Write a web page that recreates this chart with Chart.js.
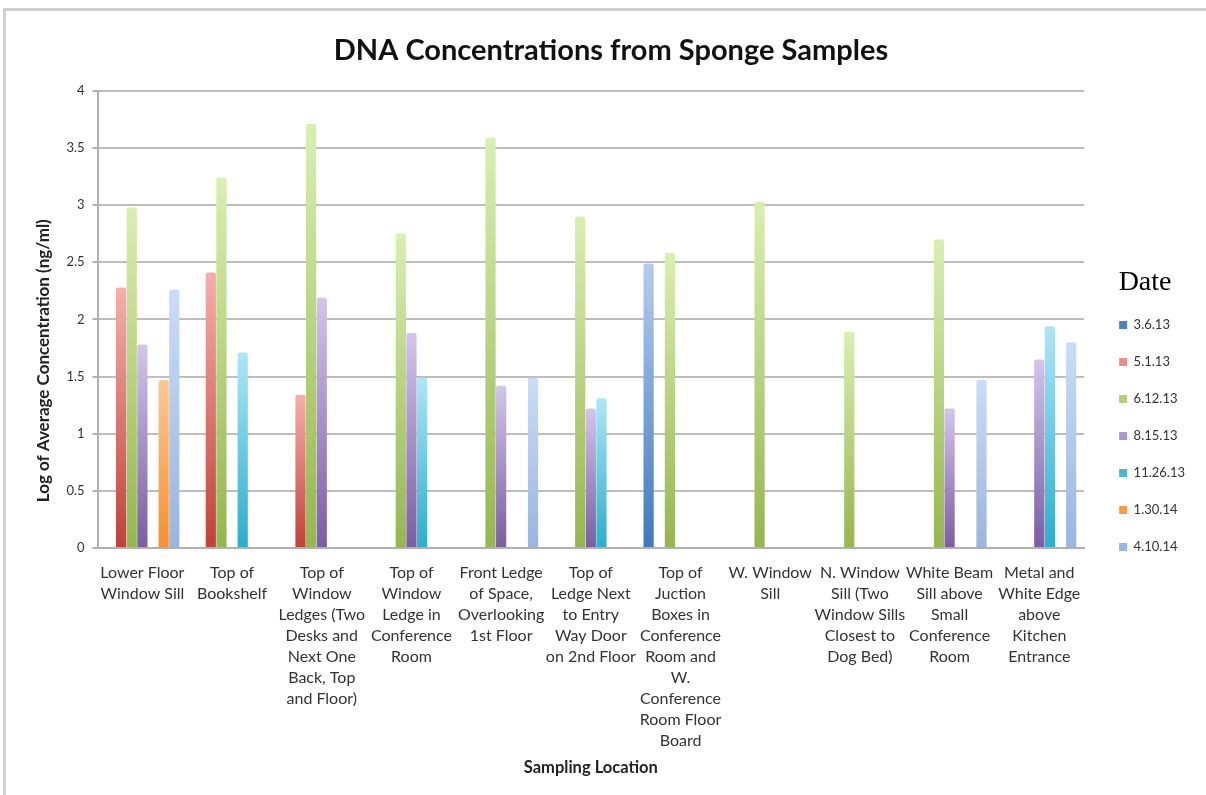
<!DOCTYPE html>
<html>
<head>
<meta charset="utf-8">
<script src="https://cdn.jsdelivr.net/npm/chart.js@4.4.1/dist/chart.umd.min.js"></script>
<style>
  html, body { margin: 0; padding: 0; background: #fff; overflow: hidden; }
  #frame { position: absolute; left: 3px; top: 8px; width: 1220px; height: 800px; border: 3px solid #d0d0d0; }
  #wrap { position: absolute; left: 0; top: 0; width: 1206px; height: 795px; }
</style>
</head>
<body>
<div id="frame"></div>
<div id="wrap"><canvas id="myChart" width="1206" height="795"></canvas></div>
<script>
// sampling locations (multi-line labels as on the x axis)
const LOCATIONS = [
    ["Lower Floor", "Window Sill"],
    ["Top of", "Bookshelf"],
    ["Top of", "Window", "Ledges (Two", "Desks and", "Next One", "Back, Top", "and Floor)"],
    ["Top of", "Window", "Ledge in", "Conference", "Room"],
    ["Front Ledge", "of Space,", "Overlooking", "1st Floor"],
    ["Top of", "Ledge Next", "to Entry", "Way Door", "on 2nd Floor"],
    ["Top of", "Juction", "Boxes in", "Conference", "Room and", "W.", "Conference", "Room Floor", "Board"],
    ["W. Window", "Sill"],
    ["N. Window", "Sill (Two", "Window Sills", "Closest to", "Dog Bed)"],
    ["White Beam", "Sill above", "Small", "Conference", "Room"],
    ["Metal and", "White Edge", "above", "Kitchen", "Entrance"]
];

const DATES = ["3.6.13", "5.1.13", "6.12.13", "8.15.13", "11.26.13", "1.30.14", "4.10.14"];

// log of average concentration per date (null = no sample)
const d_3_6_13   = [null, null, null, null, null, null, 2.49, null, null, null, null];
const d_5_1_13   = [2.28, 2.41, 1.34, null, null, null, null, null, null, null, null];
const d_6_12_13  = [2.98, 3.24, 3.71, 2.75, 3.59, 2.90, 2.58, 3.03, 1.89, 2.70, null];
const d_8_15_13  = [1.78, null, 2.19, 1.88, 1.42, 1.22, null, null, null, 1.22, 1.65];
const d_11_26_13 = [null, 1.71, null, 1.49, null, 1.31, null, null, null, null, 1.94];
const d_1_30_14  = [1.47, null, null, null, null, null, null, null, null, null, null];
const d_4_10_14  = [2.26, null, null, null, 1.49, null, null, null, null, 1.47, 1.80];

const SERIES = [d_3_6_13, d_5_1_13, d_6_12_13, d_8_15_13, d_11_26_13, d_1_30_14, d_4_10_14];

const Y_TICKS = [0, 0.5, 1, 1.5, 2, 2.5, 3, 3.5, 4];

// legend colour, gradient top, gradient bottom
const COLORS = [
    ["#4f81bd", "#b4cdf0", "#3f78bd"],
    ["#d0605c", "#f7aeac", "#c1403a"],
    ["#a9c96b", "#d9efb0", "#95b64f"],
    ["#8e74b0", "#d2c5ea", "#7a5ca3"],
    ["#4bb5d0", "#ade6f7", "#2aaecb"],
    ["#f79646", "#fcc795", "#f5902f"],
    ["#a9c4eb", "#cadcf8", "#98b6e0"]
];

function barFill(i) {
    return function (ctx) {
        const chart = ctx.chart;
        if (ctx.type !== "data" || !chart.chartArea || ctx.raw == null) {
            return COLORS[i][0];
        }
        const y = chart.scales.y;
        const top = y.getPixelForValue(ctx.raw);
        const bottom = y.getPixelForValue(0);
        const g = chart.ctx.createLinearGradient(0, top, 0, bottom);
        g.addColorStop(0, COLORS[i][1]);
        g.addColorStop(1, COLORS[i][2]);
        return g;
    };
}

const datasets = DATES.map(function (date, i) {
    return {
        label: date,
        data: SERIES[i],
        backgroundColor: barFill(i),
        borderWidth: 0,
        borderRadius: { topLeft: 2, topRight: 2 },
        borderSkipped: "bottom",
        categoryPercentage: 0.83,
        barPercentage: 0.96
    };
});

const FONT = "Lato, 'Open Sans', sans-serif";

const myChart = new Chart(document.getElementById("myChart"), {
    type: "bar",
    data: { labels: LOCATIONS, datasets: datasets },
    options: {
        responsive: false,
        animation: false,
        maintainAspectRatio: false,
        layout: { padding: { left: 27, right: 11, top: 0, bottom: 11 } },
        plugins: {
            title: {
                display: true,
                text: "DNA Concentrations from Sponge Samples",
                color: "#111",
                font: { family: FONT, size: 29, weight: "bold" },
                padding: { top: 33, bottom: 23 }
            },
            legend: {
                position: "right",
                align: "center",
                title: {
                    display: true,
                    text: "Date",
                    color: "#000",
                    font: { family: "'Liberation Serif', 'Times New Roman', serif", size: 28, lineHeight: 1 },
                    padding: { top: 62, bottom: -2 }
                },
                labels: {
                    boxWidth: 8,
                    boxHeight: 8,
                    padding: 24,
                    color: "#333",
                    font: { family: FONT, size: 13 }
                }
            },
            tooltip: { enabled: false }
        },
        scales: {
            x: {
                grid: { display: false, drawTicks: false },
                border: { display: true, color: "#b0b0b0", width: 2 },
                ticks: {
                    color: "#333",
                    maxRotation: 0,
                    autoSkip: false,
                    padding: 14,
                    font: { family: FONT, size: 16, lineHeight: 1.314 }
                },
                title: {
                    display: true,
                    text: "Sampling Location",
                    color: "#222",
                    font: { family: FONT, size: 16.5, weight: "bold" },
                    padding: { top: -7, bottom: 6 }
                }
            },
            y: {
                min: 0,
                max: 4,
                afterBuildTicks: function (axis) {
                    axis.ticks = Y_TICKS.map(function (v) { return { value: v }; });
                },
                grid: { color: "#bdbdbd", lineWidth: 2, tickLength: 5, tickColor: "#b0b0b0" },
                border: { display: true, color: "#b0b0b0", width: 2 },
                ticks: {
                    color: "#333",
                    padding: 8,
                    font: { family: FONT, size: 13 },
                    callback: function (v) { return String(v); }
                },
                title: {
                    display: true,
                    // trailing spaces push the centred title down, as in the original
                    text: "Log of Average Concentration (ng/ml)" + " ".repeat(20),
                    color: "#222",
                    font: { family: FONT, size: 17, weight: "bold" },
                    padding: { top: 6, bottom: 5 }
                }
            },
            // empty spacer between the plot and the legend
            gap: {
                position: "right",
                display: true,
                grid: { display: false, drawTicks: false },
                border: { display: false },
                ticks: { display: false },
                afterFit: function (axis) { axis.width = 11; }
            }
        }
    }
});
</script>
</body>
</html>
